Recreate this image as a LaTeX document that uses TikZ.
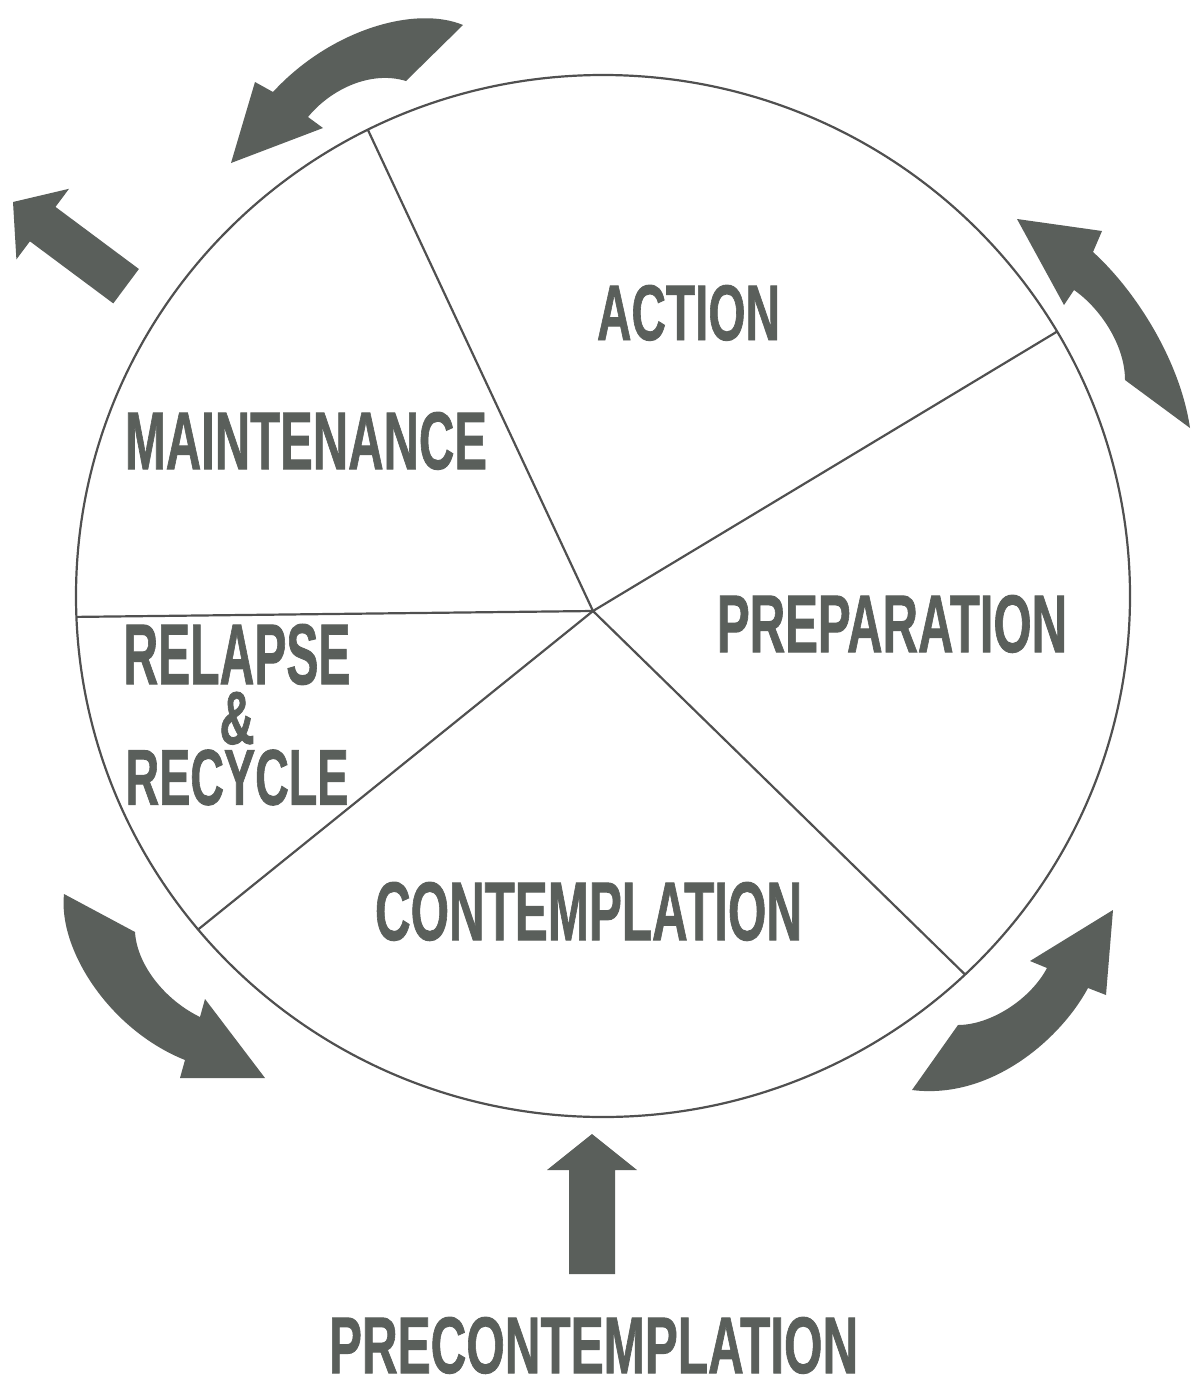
\documentclass[tikz,border=0pt]{standalone}
\usepackage{fontspec}
\setmainfont{Liberation Sans}[BoldFeatures={FakeBold=1.2}]
\usepackage{graphicx}
\usetikzlibrary{calc}
\definecolor{ink}{HTML}{5A5F5B}
\definecolor{rimcol}{HTML}{505050}
\newcommand{\capsbox}[3]{\resizebox{#1pt}{#2pt}{\bfseries #3}}
\begin{document}
\begin{tikzpicture}[x=1pt,y=-1pt,
  lbl/.style={inner sep=0pt, outer sep=0pt, anchor=north west, text=ink},
  blockarrow/.style={fill=ink, draw=none},
  rimline/.style={draw=rimcol, line width=2.2pt}]
\useasboundingbox (0,0) rectangle (1191,1379);
\fill[white] (0,0) rectangle (1191,1379);

% wheel
\coordinate (O) at (603,596);
\coordinate (hub) at (593,611);
\coordinate (rTL) at ($(O)+(-116.5:527 and 521)$);
\coordinate (rUR) at ($(O)+(-30.5:527 and 521)$);
\coordinate (rLR) at ($(O)+(46.6:527 and 521)$);
\coordinate (rLL) at ($(O)+(140.2:527 and 521)$);
\coordinate (rL)  at ($(O)+(177.7:527 and 521)$);
\draw[rimline] (O) ellipse [x radius=527, y radius=521];
\draw[rimline] (hub) -- (rTL);
\draw[rimline] (hub) -- (rUR);
\draw[rimline] (hub) -- (rLR);
\draw[rimline] (hub) -- (rLL);
\draw[rimline] (hub) -- (rL);

% labels
\node[lbl] (action) at (597,285) {\capsbox{183}{55}{ACTION}};
\node[lbl] (maint) at (125,412) {\capsbox{362}{57}{MAINTENANCE}};
\node[lbl] (prep) at (717,595) {\capsbox{350}{57}{PREPARATION}};
\node[lbl, anchor=north] (relapse) at (237,624) {\vbox{\offinterlineskip\halign{\hfil#\hfil\cr
  \capsbox{227}{60}{RELAPSE}\cr\noalign{\vskip 7pt}
  \capsbox{35}{52}{\&}\cr\noalign{\vskip 5pt}
  \capsbox{223}{55}{RECYCLE}\cr}}};
\node[lbl] (contemp) at (375,882) {\capsbox{427}{58}{CONTEMPLATION}};
\node[lbl] (precontemp) at (329,1317) {\capsbox{529}{56}{PRECONTEMPLATION}};

% straight arrow, upper left (exit)
\fill[blockarrow] (13,202) -- (69.0,188.8) -- (55.5,206.9) -- (138.9,269.0)
  -- (113.3,303.4) -- (29.9,241.3) -- (16.4,259.4) -- cycle;

% straight arrow, bottom (entry)
\fill[blockarrow] (592,1134) -- (637,1170) -- (615,1170) -- (615,1274)
  -- (569,1274) -- (569,1170) -- (547,1170) -- cycle;

% curved arrow, top (action -> maintenance)
\fill[blockarrow] (231,163) -- (255,82) -- (273,92)
  .. controls (330,30) and (415,5) .. (463,25)
  -- (406,81)
  .. controls (370,70) and (330,90) .. (308,117)
  -- (323,128) -- cycle;

% curved arrow, right (preparation -> action)
\fill[blockarrow] (1017,219) -- (1102,231) -- (1093,252)
  .. controls (1135,290) and (1180,360) .. (1190,428)
  -- (1125,380)
  .. controls (1125,345) and (1100,308) .. (1074,290)
  -- (1064,305) -- cycle;

% curved arrow, lower left (relapse -> precontemplation)
\fill[blockarrow] (265,1078) -- (205,999) -- (200,1017)
  .. controls (165,1000) and (137,965) .. (135,932)
  -- (64,894)
  .. controls (58,950) and (110,1030) .. (185,1060)
  -- (180,1078) -- cycle;

% curved arrow, lower right (contemplation -> preparation)
\fill[blockarrow] (1113,910) -- (1030,961) -- (1047,968)
  .. controls (1030,1000) and (990,1025) .. (958,1025)
  -- (912,1090)
  .. controls (990,1100) and (1060,1040) .. (1088,988)
  -- (1106,995) -- cycle;
\end{tikzpicture}
\end{document}
